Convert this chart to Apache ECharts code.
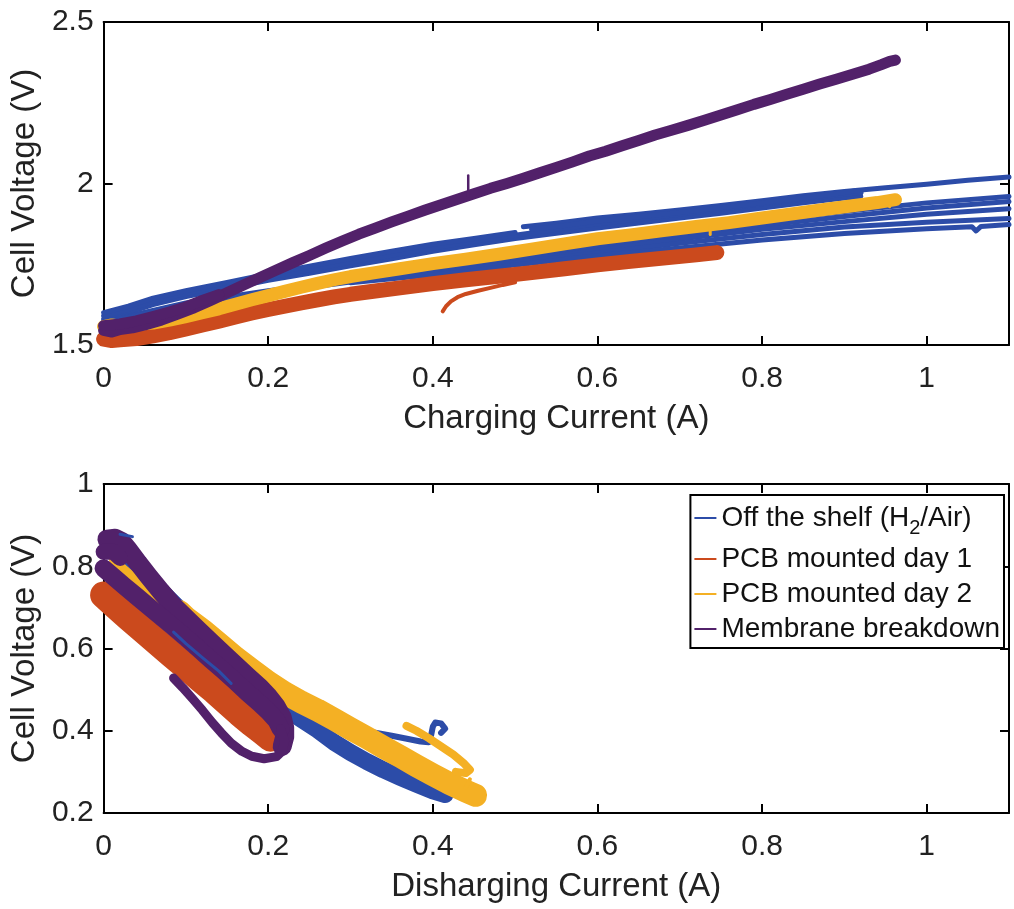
<!DOCTYPE html>
<html><head><meta charset="utf-8">
<script src="https://cdn.jsdelivr.net/npm/echarts/dist/echarts.min.js"></script>
<style>html,body{margin:0;padding:0;background:#fff}#c{width:1014px;height:909px}</style>
</head><body><div id="c"></div><script>
// ---------- names / colours ----------
const seriesNames = ['Off the shelf (H2/Air)', 'PCB mounted day 1', 'PCB mounted day 2', 'Membrane breakdown'];
const seriesColors = ['#2c4ca8', '#cb4a1d', '#f4b024', '#52216a'];

// ---------- axes ----------
const xTicksCharge = [0, 0.2, 0.4, 0.6, 0.8, 1];
const yTicksCharge = [1.5, 2, 2.5];
const yTicksDis = [0.2, 0.4, 0.6, 0.8, 1];
const xMax = 1.1;

// ---------- charging (top) : [current A, voltage V] ----------
const chgBlue = [
  [[0,1.58],[0.03,1.60],[0.06,1.625],[0.1,1.65],[0.15,1.675],[0.2,1.70],[0.25,1.722],[0.3,1.745],[0.35,1.767],[0.4,1.79],[0.45,1.81],[0.5,1.83],[0.55,1.846],[0.6,1.862],[0.65,1.878],[0.7,1.893],[0.75,1.908],[0.8,1.924],[0.85,1.94],[0.9,1.955],[0.92,1.96]],
  [[0,1.59],[0.03,1.61],[0.06,1.635],[0.1,1.66],[0.15,1.686],[0.2,1.71],[0.25,1.733],[0.3,1.757],[0.35,1.778],[0.4,1.80],[0.45,1.821],[0.5,1.84],[0.55,1.858],[0.6,1.875],[0.65,1.89],[0.7,1.905],[0.75,1.921],[0.8,1.937],[0.85,1.952],[0.9,1.967],[0.92,1.972]],
  [[0,1.60],[0.03,1.62],[0.06,1.645],[0.1,1.668],[0.15,1.694],[0.2,1.72],[0.25,1.744],[0.3,1.768],[0.35,1.79],[0.4,1.812],[0.45,1.83],[0.5,1.848]],
  [[0.51,1.866],[0.55,1.877],[0.6,1.893],[0.65,1.905],[0.7,1.918],[0.75,1.932],[0.8,1.947],[0.85,1.962],[0.9,1.975],[0.95,1.987],[1.0,1.998],[1.05,2.01],[1.1,2.02]],
  [[0.52,1.858],[0.56,1.87],[0.6,1.884],[0.65,1.897],[0.7,1.91],[0.75,1.925],[0.8,1.94],[0.85,1.955],[0.89,1.968],[0.915,1.978],[0.92,1.97]],
  [[0,1.572],[0.1,1.63],[0.2,1.668],[0.3,1.70],[0.4,1.737],[0.5,1.775],[0.6,1.81],[0.7,1.848],[0.8,1.882],[0.9,1.913],[1.0,1.94],[1.1,1.96]],
  [[0,1.57],[0.1,1.628],[0.2,1.665],[0.3,1.698],[0.4,1.732],[0.5,1.768],[0.6,1.80],[0.7,1.838],[0.8,1.87],[0.9,1.898],[1.0,1.924],[1.1,1.944]],
  [[0,1.568],[0.1,1.625],[0.2,1.662],[0.3,1.695],[0.4,1.728],[0.5,1.76],[0.6,1.793],[0.7,1.828],[0.8,1.858],[0.9,1.882],[1.0,1.905],[1.1,1.922]],
  [[0.3,1.695],[0.42,1.727],[0.5,1.755],[0.6,1.785],[0.7,1.815],[0.8,1.842],[0.9,1.865],[1.0,1.88],[1.1,1.892]],
  [[0.3,1.693],[0.45,1.73],[0.5,1.748],[0.6,1.776],[0.7,1.80],[0.8,1.825],[0.9,1.845],[1.0,1.86],[1.055,1.866],[1.06,1.853],[1.066,1.867],[1.1,1.873]]
];
const chgRed = [[0,1.518],[0.01,1.514],[0.02,1.516],[0.04,1.52],[0.06,1.528],[0.08,1.538],[0.1,1.55],[0.12,1.562],[0.14,1.574],[0.16,1.587],[0.18,1.599],[0.2,1.61],[0.22,1.62],[0.24,1.63],[0.26,1.64],[0.28,1.649],[0.3,1.657],[0.33,1.667],[0.36,1.677],[0.4,1.69],[0.44,1.702],[0.48,1.713],[0.52,1.724],[0.56,1.736],[0.6,1.748],[0.64,1.759],[0.68,1.769],[0.72,1.779],[0.745,1.786]];
const chgRedHook = [[0.412,1.604],[0.416,1.62],[0.422,1.635],[0.43,1.648],[0.44,1.658],[0.455,1.668],[0.47,1.677],[0.485,1.686],[0.5,1.694]];
const chgYellow = [[0,1.557],[0.01,1.562],[0.02,1.558],[0.04,1.564],[0.06,1.568],[0.08,1.577],[0.1,1.588],[0.12,1.6],[0.14,1.612],[0.16,1.626],[0.18,1.64],[0.2,1.653],[0.22,1.666],[0.24,1.679],[0.26,1.691],[0.28,1.702],[0.3,1.712],[0.33,1.724],[0.36,1.736],[0.4,1.752],[0.44,1.766],[0.48,1.781],[0.52,1.797],[0.56,1.813],[0.6,1.829],[0.64,1.841],[0.68,1.854],[0.72,1.867],[0.76,1.879],[0.8,1.893],[0.84,1.907],[0.88,1.921],[0.91,1.931],[0.94,1.941],[0.962,1.95]];
const chgYellowSpikes = [[[0.737,1.865],[0.737,1.842]],[[0.955,1.945],[0.955,1.928]]];
const chgPurple = [[0,1.545],[0.01,1.54],[0.02,1.548],[0.035,1.553],[0.05,1.562],[0.07,1.577],[0.09,1.596],[0.11,1.615],[0.13,1.638],[0.15,1.662],[0.17,1.686],[0.19,1.709],[0.21,1.732],[0.23,1.755],[0.25,1.777],[0.27,1.8],[0.29,1.822],[0.31,1.843],[0.33,1.862],[0.35,1.881],[0.37,1.899],[0.39,1.917],[0.41,1.934],[0.43,1.951],[0.45,1.968],[0.47,1.985],[0.49,2.0],[0.51,2.016],[0.53,2.033],[0.55,2.05],[0.57,2.067],[0.59,2.085],[0.61,2.1],[0.63,2.117],[0.65,2.133],[0.67,2.15],[0.69,2.165],[0.71,2.18],[0.73,2.196],[0.75,2.212],[0.77,2.228],[0.79,2.245],[0.81,2.26],[0.83,2.276],[0.85,2.292],[0.87,2.308],[0.89,2.323],[0.91,2.338],[0.93,2.354],[0.945,2.368],[0.955,2.378],[0.962,2.382]];
const chgPurpleLow = [[0,1.56],[0.02,1.565],[0.04,1.575],[0.06,1.588],[0.08,1.602],[0.1,1.618],[0.12,1.638],[0.14,1.656]];
const chgPurpleSpike = [[0.443,1.96],[0.443,2.025]];

// ---------- discharging (bottom) ----------
const disBlue = [[0.02,0.85],[0.04,0.80],[0.06,0.76],[0.08,0.72],[0.1,0.68],[0.12,0.645],[0.14,0.605],[0.16,0.565],[0.18,0.525],[0.2,0.49],[0.22,0.455],[0.24,0.428],[0.26,0.402],[0.28,0.372],[0.3,0.347],[0.32,0.325],[0.34,0.305],[0.36,0.287],[0.38,0.27],[0.4,0.254],[0.415,0.245]];
const disBlueHook = [[0.33,0.395],[0.35,0.388],[0.37,0.38],[0.385,0.374],[0.395,0.372],[0.398,0.39],[0.40,0.41],[0.403,0.42],[0.41,0.418],[0.415,0.405],[0.41,0.395]];
const disBlueTop = [[[0.085,0.64],[0.1,0.612],[0.12,0.578],[0.14,0.545],[0.155,0.515]],[[0.02,0.878],[0.035,0.872]]];
const disRed = [[0,0.73],[0.015,0.703],[0.03,0.676],[0.047,0.647],[0.065,0.616],[0.083,0.585],[0.1,0.556],[0.118,0.525],[0.135,0.497],[0.15,0.47],[0.165,0.443],[0.18,0.418],[0.193,0.398],[0.203,0.382]];
const disYellowStrip = [[0.012,0.815],[0.025,0.792],[0.04,0.766],[0.055,0.742],[0.07,0.716],[0.085,0.69],[0.1,0.665],[0.112,0.642]];
const disYellow = [[0.092,0.69],[0.1,0.675],[0.12,0.645],[0.14,0.612],[0.16,0.578],[0.18,0.548],[0.2,0.518],[0.22,0.492],[0.24,0.47],[0.26,0.45],[0.28,0.428],[0.3,0.405],[0.32,0.383],[0.34,0.36],[0.36,0.338],[0.38,0.315],[0.4,0.293],[0.42,0.272],[0.44,0.253],[0.452,0.243]];
const disYellowHook = [[0.368,0.412],[0.38,0.4],[0.395,0.382],[0.41,0.362],[0.425,0.342],[0.437,0.322],[0.445,0.305],[0.44,0.297],[0.428,0.3]];
const disYellowSpike = [[0.44,0.262],[0.445,0.282]];
const disPurpleOuter = [[0.004,0.866],[0.014,0.868],[0.022,0.86],[0.03,0.84],[0.042,0.808],[0.055,0.775],[0.07,0.738],[0.085,0.703],[0.1,0.674],[0.115,0.645],[0.13,0.616],[0.145,0.588],[0.16,0.56],[0.175,0.532],[0.19,0.505],[0.2,0.484],[0.21,0.458],[0.217,0.432],[0.22,0.408],[0.22,0.385],[0.217,0.362]];
const disPurpleCap = [[0,0.835],[0.012,0.835],[0.02,0.82]];
const disPurpleInner = [[0,0.795],[0.01,0.778],[0.025,0.752],[0.04,0.727],[0.055,0.702],[0.07,0.677],[0.085,0.652],[0.1,0.626],[0.115,0.6],[0.13,0.573],[0.145,0.547],[0.16,0.52],[0.175,0.492],[0.19,0.466],[0.2,0.447],[0.21,0.425],[0.215,0.405]];
const disPurpleLoop = [[0.215,0.405],[0.22,0.375],[0.217,0.35],[0.21,0.337],[0.195,0.332],[0.18,0.338],[0.168,0.35],[0.155,0.37],[0.143,0.395],[0.132,0.42],[0.12,0.45],[0.108,0.478],[0.096,0.505],[0.085,0.528]];

// ---------- build ----------
const FONT = "'Liberation Sans', Arial, Helvetica, sans-serif";
function ln(name, data, color, width, grid, z) {
  return {type:'line', name:name, data:data, xAxisIndex:grid*2, yAxisIndex:grid*2,
    symbol:'none', showSymbol:false, silent:true, clip:true, z:z||2,
    lineStyle:{color:color, width:width, cap:'round', join:'round'}, itemStyle:{color:color}};
}
const series = [];
chgBlue.forEach(t => series.push(ln(seriesNames[0], t, seriesColors[0], 5, 0)));
series.push(ln(seriesNames[1], chgRed, seriesColors[1], 15, 0));
series.push(ln(seriesNames[1], chgRedHook, seriesColors[1], 4, 0));
series.push(ln(seriesNames[2], chgYellow, seriesColors[2], 13, 0));
chgYellowSpikes.forEach(t => series.push(ln(seriesNames[2], t, seriesColors[2], 3, 0)));
series.push(ln(seriesNames[3], chgPurple, seriesColors[3], 11, 0));
series.push(ln(seriesNames[3], chgPurpleLow, seriesColors[3], 11, 0));
series.push(ln(seriesNames[3], chgPurpleSpike, seriesColors[3], 2.5, 0));

series.push(ln(seriesNames[0], disBlue, seriesColors[0], 17, 1));
series.push(ln(seriesNames[0], disBlueHook, seriesColors[0], 6, 1));
series.push(ln(seriesNames[1], disRed, seriesColors[1], 27, 1));
series.push(ln(seriesNames[2], disYellowStrip, seriesColors[2], 9, 1));
series.push(ln(seriesNames[2], disYellow, seriesColors[2], 23, 1));
series.push(ln(seriesNames[2], disYellowHook, seriesColors[2], 8, 1));
series.push(ln(seriesNames[2], disYellowSpike, seriesColors[2], 4, 1));
series.push(ln(seriesNames[3], disPurpleOuter, seriesColors[3], 19, 1));
series.push(ln(seriesNames[3], disPurpleCap, seriesColors[3], 16, 1));
series.push(ln(seriesNames[3], disPurpleInner, seriesColors[3], 18, 1));
series.push(ln(seriesNames[3], disPurpleLoop, seriesColors[3], 9, 1));
disBlueTop.forEach(t => series.push(ln(seriesNames[0], t, seriesColors[0], 3, 1, 3)));

const lineBlack = {show:true, onZero:false, lineStyle:{color:'#000', width:2}};
const tickIn = {show:true, inside:true, length:9, lineStyle:{color:'#000', width:2}};
function xAx(grid, name, ticks) {
  return [
    {gridIndex:grid, type:'value', min:0, max:xMax, interval:0.2, position:'bottom',
     name:name, nameLocation:'middle', nameGap:57,
     nameTextStyle:{fontSize:33, color:'#222', fontFamily:FONT},
     axisLine:lineBlack, axisTick:tickIn, splitLine:{show:false},
     axisLabel:{fontSize:30, color:'#222', fontFamily:FONT, margin:19,
       formatter: v => ticks.some(t => Math.abs(t - v) < 1e-6) ? String(+v.toFixed(1)) : ''}},
    {gridIndex:grid, type:'value', min:0, max:xMax, interval:0.2, position:'top',
     axisLine:lineBlack, axisTick:tickIn, axisLabel:{show:false}, splitLine:{show:false}}
  ];
}
function yAx(grid, min, max, interval, ticks) {
  return [
    {gridIndex:grid, type:'value', min:min, max:max, interval:interval, position:'left',
     name:'Cell Voltage (V)', nameLocation:'middle', nameGap:45, nameRotate:90,
     nameTextStyle:{fontSize:33, color:'#222', fontFamily:FONT},
     axisLine:lineBlack, axisTick:tickIn, splitLine:{show:false},
     axisLabel:{fontSize:30, color:'#222', fontFamily:FONT, margin:10,
       formatter: v => ticks.some(t => Math.abs(t - v) < 1e-6) ? String(+v.toFixed(1)) : ''}},
    {gridIndex:grid, type:'value', min:min, max:max, interval:interval, position:'right',
     axisLine:lineBlack, axisTick:tickIn, axisLabel:{show:false}, splitLine:{show:false}}
  ];
}

const chart = echarts.init(document.getElementById('c'), null, {renderer:'canvas'});
chart.setOption({
  animation:false,
  backgroundColor:'#fff',
  grid:[
    {left:101, right:5, top:22, height:323},
    {left:101, right:5, top:484, height:329}
  ],
  xAxis:[...xAx(0, 'Charging Current (A)', xTicksCharge), ...xAx(1, 'Disharging Current (A)', xTicksCharge)],
  yAxis:[...yAx(0, 1.5, 2.5, 0.5, yTicksCharge), ...yAx(1, 0.2, 1, 0.2, yTicksDis)],
  legend:{
    data:seriesNames, orient:'vertical', right:10, top:495,
    backgroundColor:'#fff', borderColor:'#000', borderWidth:2,
    padding:[9,4,5,4], itemGap:7, itemWidth:22, itemHeight:2, icon:'rect',
    selectedMode:false,
    formatter: n => n === seriesNames[0] ? '{a|Off the shelf (H}{s|2}{a|/Air)}' : '{a|' + n + '}',
    textStyle:{fontSize:28, color:'#111', fontFamily:FONT,
      rich:{a:{fontSize:28, fontFamily:FONT, color:'#111'},
            s:{fontSize:20, fontFamily:FONT, color:'#111', padding:[20,0,0,0]}}}
  },
  series:series
});
</script></body></html>
